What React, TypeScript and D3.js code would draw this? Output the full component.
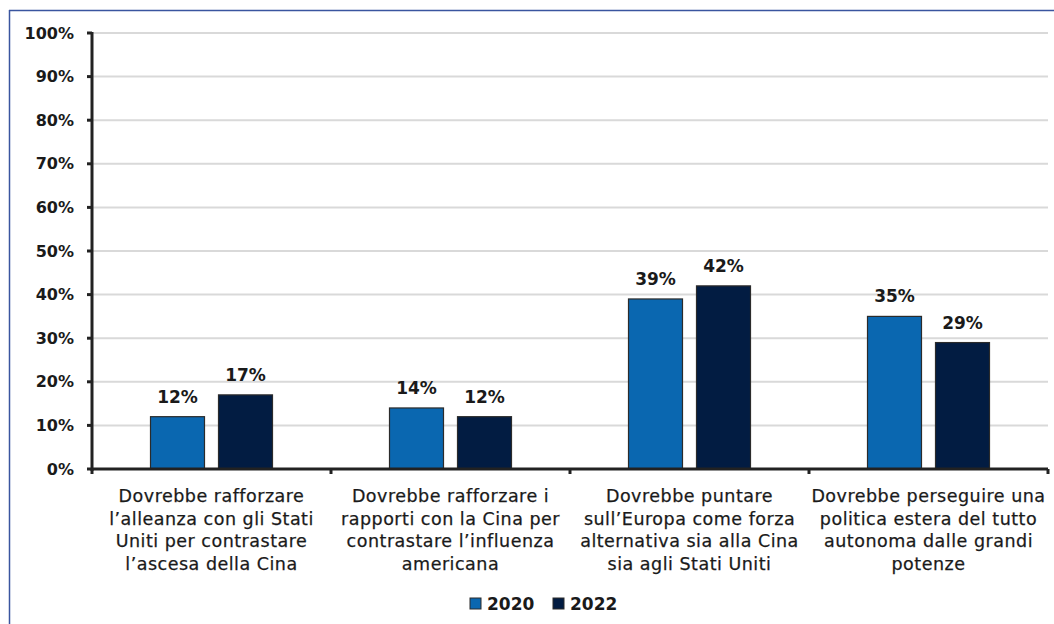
import React from "react";
import * as d3 from "d3";

const categories: string[][] = [
  ["Dovrebbe rafforzare", "l’alleanza con gli Stati", "Uniti per contrastare", "l’ascesa della Cina"],
  ["Dovrebbe rafforzare i", "rapporti con la Cina per", "contrastare l’influenza", "americana"],
  ["Dovrebbe puntare", "sull’Europa come forza", "alternativa sia alla Cina", "sia agli Stati Uniti"],
  ["Dovrebbe perseguire una", "politica estera del tutto", "autonoma dalle grandi", "potenze"],
];
const seriesNames = ["2020", "2022"];
const values2020 = [12, 14, 39, 35];
const values2022 = [17, 12, 42, 29];
const yTicks = [0, 10, 20, 30, 40, 50, 60, 70, 80, 90, 100];
const colors = ["#0a67b0", "#021c42"];

const W = 1054;
const H = 624;
const left = 92;
const right = 1048;
const top = 33;
const bottom = 469;
const FONT = "'DejaVu Sans', Verdana, sans-serif";

export default function App() {
  const series = [values2020, values2022];
  const y = d3.scaleLinear().domain([0, 100]).range([bottom, top]);
  const x0 = d3.scaleBand<number>().domain(d3.range(categories.length)).range([left, right]);
  const bw = x0.bandwidth();
  const x1 = d3
    .scaleBand<string>()
    .domain(seriesNames)
    .range([bw / 2 - 61, bw / 2 + 61])
    .paddingInner(14 / 68);

  return (
    <svg width={W} height={H} style={{ position: "absolute", left: 0, top: 0, background: "#fff" }}>
      <rect x={0} y={0} width={W} height={H} fill="#fff" />
      {/* border */}
      <line x1={9} x2={W} y1={10.5} y2={10.5} stroke="#3a559f" strokeWidth={1.5} />
      <line x1={9.5} x2={9.5} y1={10} y2={H} stroke="#3a559f" strokeWidth={1.5} />

      {/* grid */}
      {yTicks.slice(1).map((t) => (
        <line key={t} x1={left} x2={right} y1={y(t)} y2={y(t)} stroke="#d9d9d9" strokeWidth={2} />
      ))}

      {/* bars */}
      {categories.map((_, i) =>
        seriesNames.map((s, j) => {
          const v = series[j][i];
          const bx = (x0(i) as number) + (x1(s) as number);
          return (
            <g key={`${i}-${j}`}>
              <rect
                x={bx}
                y={y(v)}
                width={x1.bandwidth()}
                height={bottom - y(v)}
                fill={colors[j]}
                stroke="#2b2b2b"
                strokeWidth={1.2}
              />
              <text
                x={bx + x1.bandwidth() / 2}
                y={y(v) - 14}
                textAnchor="middle"
                fontFamily={FONT}
                fontWeight="bold"
                fontSize={17}
                fill="#1a1a1a"
              >
                {v}%
              </text>
            </g>
          );
        })
      )}

      {/* y axis */}
      <line x1={left} x2={left} y1={top - 1} y2={bottom + 2} stroke="#222" strokeWidth={3} />
      {yTicks.map((t) => (
        <g key={t}>
          <line x1={left - 5} x2={left} y1={y(t)} y2={y(t)} stroke="#222" strokeWidth={3} />
          <text
            x={74}
            y={y(t)}
            dy="0.35em"
            textAnchor="end"
            fontFamily={FONT}
            fontWeight="bold"
            fontSize={16}
            fill="#1a1a1a"
          >
            {t}%
          </text>
        </g>
      ))}

      {/* x axis */}
      <line x1={left} x2={right} y1={bottom} y2={bottom} stroke="#222" strokeWidth={3} />
      {d3.range(categories.length + 1).map((i) => {
        const xx = i < categories.length ? (x0(i) as number) : right;
        return <line key={i} x1={xx} x2={xx} y1={bottom} y2={bottom + 5} stroke="#222" strokeWidth={3} />;
      })}

      {/* category labels */}
      {categories.map((lines, i) => (
        <text
          key={i}
          x={(x0(i) as number) + bw / 2}
          y={502}
          textAnchor="middle"
          fontFamily={FONT}
          fontSize={17.5}
          letterSpacing={0.5}
          fill="#1a1a1a"
          stroke="#1a1a1a"
          strokeWidth={0.25}
        >
          {lines.map((l, k) => (
            <tspan key={k} x={(x0(i) as number) + bw / 2} dy={k === 0 ? 0 : 22.6}>
              {l}
            </tspan>
          ))}
        </text>
      ))}

      {/* legend */}
      {seriesNames.map((s, j) => {
        const lx = j === 0 ? 470 : 553;
        return (
          <g key={s}>
            <rect x={lx} y={598} width={11} height={11} fill={colors[j]} stroke="#2b2b2b" strokeWidth={1} />
            <text
              x={lx + 17}
              y={604}
              dy="0.35em"
              fontFamily={FONT}
              fontWeight="bold"
              fontSize={17}
              fill="#1a1a1a"
            >
              {s}
            </text>
          </g>
        );
      })}
    </svg>
  );
}
